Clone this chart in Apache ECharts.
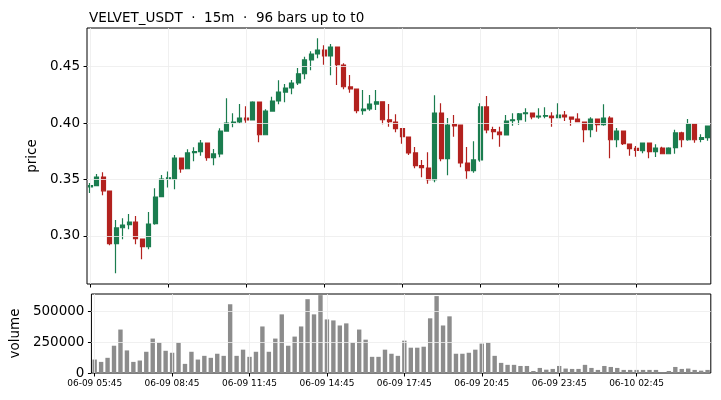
<!DOCTYPE html>
<html>
<head>
<meta charset="utf-8">
<script src="https://cdn.jsdelivr.net/npm/echarts@6/dist/echarts.min.js"></script>
<style>
  html, body { margin: 0; padding: 0; background: #fff; }
  #main { width: 721px; height: 400px; }
</style>
</head>
<body>
<div id="main"></div>
<script>
// 15m bars, 96 of them, starting 06-09 05:45
var opens = [
  0.3435, 0.3445, 0.3522, 0.3398, 0.2932, 0.3073, 0.3100, 0.3124, 0.2973, 0.2905, 0.3109, 0.3348,
  0.3505, 0.3504, 0.3690, 0.3595, 0.3738, 0.3746, 0.3823, 0.3693, 0.3726, 0.3929, 0.4003, 0.4009,
  0.4044, 0.4027, 0.4186, 0.3896, 0.4106, 0.4195, 0.4274, 0.4310, 0.4354, 0.4436, 0.4558, 0.4611,
  0.4646, 0.4593, 0.4673, 0.4513, 0.4319, 0.4301, 0.4109, 0.4124, 0.4168, 0.4188, 0.4029, 0.4009,
  0.3950, 0.3876, 0.3735, 0.3622, 0.3602, 0.3498, 0.4088, 0.3684, 0.3985, 0.3982, 0.3646, 0.3578,
  0.3673, 0.4142, 0.3941, 0.3920, 0.3894, 0.4020, 0.4029, 0.4082, 0.4088, 0.4053, 0.4060, 0.4062,
  0.4047, 0.4071, 0.4053, 0.4035, 0.4009, 0.3941, 0.4035, 0.3985, 0.4044, 0.3852, 0.3929, 0.3814,
  0.3776, 0.3755, 0.3823, 0.3746, 0.3779, 0.3728, 0.3782, 0.3912, 0.3852, 0.3991, 0.3855, 0.3870
];
var closes = [
  0.3445, 0.3522, 0.3400, 0.2932, 0.3071, 0.3097, 0.3124, 0.2976, 0.2905, 0.3106, 0.3345, 0.3504,
  0.3515, 0.3690, 0.3593, 0.3735, 0.3748, 0.3823, 0.3693, 0.3726, 0.3929, 0.4000, 0.4008, 0.4044,
  0.4027, 0.4186, 0.3896, 0.4106, 0.4195, 0.4274, 0.4310, 0.4354, 0.4436, 0.4558, 0.4611, 0.4646,
  0.4593, 0.4673, 0.4516, 0.4321, 0.4301, 0.4109, 0.4124, 0.4168, 0.4188, 0.4029, 0.4012, 0.3950,
  0.3879, 0.3735, 0.3622, 0.3605, 0.3498, 0.4088, 0.3684, 0.3982, 0.3975, 0.3646, 0.3578, 0.3673,
  0.4142, 0.3938, 0.3923, 0.3896, 0.4018, 0.4029, 0.4080, 0.4091, 0.4053, 0.4062, 0.4065, 0.4047,
  0.4071, 0.4053, 0.4035, 0.4012, 0.3941, 0.4035, 0.3985, 0.4044, 0.3852, 0.3929, 0.3817, 0.3773,
  0.3758, 0.3823, 0.3746, 0.3779, 0.3728, 0.3779, 0.3912, 0.3852, 0.3991, 0.3852, 0.3870, 0.3973
];
var lows = [
  0.3380, 0.3440, 0.3360, 0.2918, 0.2670, 0.2971, 0.3059, 0.2927, 0.2794, 0.2882, 0.3100, 0.3345,
  0.3430, 0.3413, 0.3560, 0.3595, 0.3661, 0.3711, 0.3666, 0.3626, 0.3696, 0.3923, 0.3962, 0.3997,
  0.4003, 0.4027, 0.3829, 0.3896, 0.4100, 0.4165, 0.4183, 0.4254, 0.4336, 0.4387, 0.4466, 0.4573,
  0.4516, 0.4422, 0.4336, 0.4298, 0.4268, 0.4086, 0.4073, 0.4109, 0.4115, 0.3988, 0.3967, 0.3918,
  0.3817, 0.3717, 0.3599, 0.3520, 0.3463, 0.3475, 0.3661, 0.3537, 0.3879, 0.3608, 0.3507, 0.3560,
  0.3658, 0.3909, 0.3856, 0.3790, 0.3891, 0.3976, 0.3985, 0.4012, 0.4033, 0.4038, 0.4042, 0.3967,
  0.4042, 0.4018, 0.3976, 0.4006, 0.3829, 0.3873, 0.3923, 0.3976, 0.3688, 0.3785, 0.3805, 0.3711,
  0.3702, 0.3732, 0.3688, 0.3699, 0.3723, 0.3723, 0.3728, 0.3785, 0.3843, 0.3826, 0.3829, 0.3843
];
var highs = [
  0.3470, 0.3549, 0.3564, 0.3400, 0.3142, 0.3157, 0.3195, 0.3177, 0.2975, 0.3212, 0.3422, 0.3540,
  0.3570, 0.3717, 0.3692, 0.3767, 0.3785, 0.3850, 0.3825, 0.3770, 0.3953, 0.4219, 0.4086, 0.4168,
  0.4148, 0.4192, 0.4188, 0.4121, 0.4233, 0.4378, 0.4345, 0.4381, 0.4487, 0.4587, 0.4635, 0.4750,
  0.4688, 0.4699, 0.4675, 0.4528, 0.4425, 0.4303, 0.4292, 0.4248, 0.4292, 0.4190, 0.4168, 0.4077,
  0.3952, 0.3878, 0.3788, 0.3673, 0.3741, 0.4245, 0.4174, 0.4044, 0.4071, 0.3984, 0.3788, 0.3838,
  0.4174, 0.4239, 0.3967, 0.3967, 0.4071, 0.4086, 0.4088, 0.4130, 0.4090, 0.4130, 0.4139, 0.4095,
  0.4174, 0.4106, 0.4055, 0.4086, 0.4011, 0.4050, 0.4037, 0.4165, 0.4059, 0.3956, 0.3931, 0.3816,
  0.3796, 0.3825, 0.3825, 0.3812, 0.3790, 0.3785, 0.3941, 0.3923, 0.4035, 0.3993, 0.3900, 0.3975
];
var volumes = [
  109000,  90000, 123000, 221000, 352000, 183000,  90000, 101000, 172000, 279000, 246000, 180000,
  164000, 246000,  74000, 172000, 109000, 139000, 123000, 156000, 139000, 557000, 139000, 189000,
  131000, 172000, 377000, 172000, 279000, 475000, 221000, 295000, 377000, 598000, 475000, 631000,
  434000, 426000, 385000, 402000, 246000, 352000, 270000, 131000, 131000, 189000, 156000, 139000,
  262000, 205000, 205000, 213000, 443000, 623000, 385000, 459000, 156000, 156000, 164000, 189000,
  238000, 246000, 139000,  82000,  66000,  66000,  57000,  57000,  16000,  41000,  27000,  33000,
   57000,  36000,  33000,  33000,  66000,  41000,  25000,  57000,  49000,  41000,  25000,  25000,
   25000,  25000,  25000,  25000,   4000,  16000,  49000,  33000,  36000,  25000,  19000,  25000
];
var priceTicks = [0.30, 0.35, 0.40, 0.45];
var volumeTicks = [0, 250000, 500000];

// category labels: 15 minute steps from 06-09 05:45
function pad(n) { return n < 10 ? '0' + n : '' + n; }
var categories = [];
(function () {
  var t = 5 * 60 + 45, day = 9;
  for (var i = 0; i < opens.length; i++) {
    var m = t + i * 15, d = day + Math.floor(m / 1440);
    m = m % 1440;
    categories.push('06-' + pad(d) + ' ' + pad(Math.floor(m / 60)) + ':' + pad(m % 60));
  }
})();
var tickCats = categories.filter(function (c, i) { return i % 12 === 0; });

var candles = opens.map(function (o, i) { return [o, closes[i], lows[i], highs[i]]; });

var UP = '#1b7d4f', DOWN = '#b3221f', GRID = '#ececec', FONT = 'DejaVu Sans';

function gridLines(axisKey, values) {
  return values.map(function (v) { var o = {}; o[axisKey] = v; return o; });
}

var chart = echarts.init(document.getElementById('main'), null, { renderer: 'canvas' });
chart.setOption({
  animation: false,
  backgroundColor: '#fff',
  textStyle: { fontFamily: FONT },
  title: {
    text: 'VELVET_USDT  \u00b7  15m  \u00b7  96 bars up to t0',
    left: 84, top: 6,
    textStyle: { fontFamily: FONT, fontSize: 13.5, fontWeight: 'normal', color: '#000' }
  },
  grid: [
    { left: 87, width: 623.8, top: 28, height: 256, show: true, borderColor: '#000', borderWidth: 1, backgroundColor: 'transparent' },
    { left: 87, width: 623.8, top: 294, height: 79, show: true, borderColor: '#000', borderWidth: 1, backgroundColor: 'transparent' }
  ],
  xAxis: [
    {
      type: 'category', gridIndex: 0, data: categories, boundaryGap: true,
      axisLine: { show: false },
      axisTick: { show: true, interval: 11, alignWithLabel: true, length: 3.5, lineStyle: { color: '#000' } },
      axisLabel: { show: false, interval: 11 },
      splitLine: { show: false }
    },
    {
      type: 'category', gridIndex: 1, data: categories, boundaryGap: true,
      axisLine: { show: false },
      axisTick: { show: true, interval: 11, alignWithLabel: true, length: 3.5, lineStyle: { color: '#000' } },
      axisLabel: { interval: 11, margin: 6, fontSize: 9, color: '#000', fontFamily: FONT },
      splitLine: { show: false }
    }
  ],
  yAxis: [
    {
      type: 'value', gridIndex: 0, min: 0.2575, max: 0.4841, scale: true,
      name: 'price', nameLocation: 'middle', nameGap: 41,
      nameTextStyle: { fontFamily: FONT, fontSize: 13.5, color: '#000' },
      axisLine: { show: false },
      axisTick: { show: true, length: 3.5, customValues: priceTicks, lineStyle: { color: '#000' } },
      axisLabel: { customValues: priceTicks, margin: 7, fontSize: 13.5, color: '#000', fontFamily: FONT,
        formatter: function (v) { return v.toFixed(2); } },
      splitLine: { show: false }
    },
    {
      type: 'value', gridIndex: 1, min: 0, max: 640000,
      name: 'volume', nameLocation: 'middle', nameGap: 63,
      nameTextStyle: { fontFamily: FONT, fontSize: 13.5, color: '#000' },
      axisLine: { show: false },
      axisTick: { show: true, length: 3.5, customValues: volumeTicks, lineStyle: { color: '#000' } },
      axisLabel: { customValues: volumeTicks, margin: 7, fontSize: 13.5, color: '#000', fontFamily: FONT,
        formatter: function (v) { return String(Math.round(v)); } },
      splitLine: { show: false }
    }
  ],
  series: [
    {
      // faint grid of the price panel
      type: 'line', xAxisIndex: 0, yAxisIndex: 0, data: [], z: 1, silent: true,
      markLine: {
        silent: true, symbol: 'none', label: { show: false },
        lineStyle: { color: GRID, type: 'solid', width: 0.8 },
        data: gridLines('yAxis', priceTicks).concat(gridLines('xAxis', tickCats))
      }
    },
    {
      // faint grid of the volume panel
      type: 'line', xAxisIndex: 1, yAxisIndex: 1, data: [], z: 1, silent: true,
      markLine: {
        silent: true, symbol: 'none', label: { show: false },
        lineStyle: { color: GRID, type: 'solid', width: 0.8 },
        data: gridLines('yAxis', volumeTicks.slice(1)).concat(gridLines('xAxis', tickCats))
      }
    },
    {
      name: 'price', type: 'candlestick', xAxisIndex: 0, yAxisIndex: 0, z: 3,
      data: candles, barWidth: '68%',
      itemStyle: { color: UP, color0: DOWN, borderColor: UP, borderColor0: DOWN, borderWidth: 1.2 }
    },
    {
      name: 'volume', type: 'bar', xAxisIndex: 1, yAxisIndex: 1, z: 3,
      data: volumes, barWidth: '68%',
      itemStyle: { color: '#8c8c8c' }
    }
  ]
});
</script>
</body>
</html>
